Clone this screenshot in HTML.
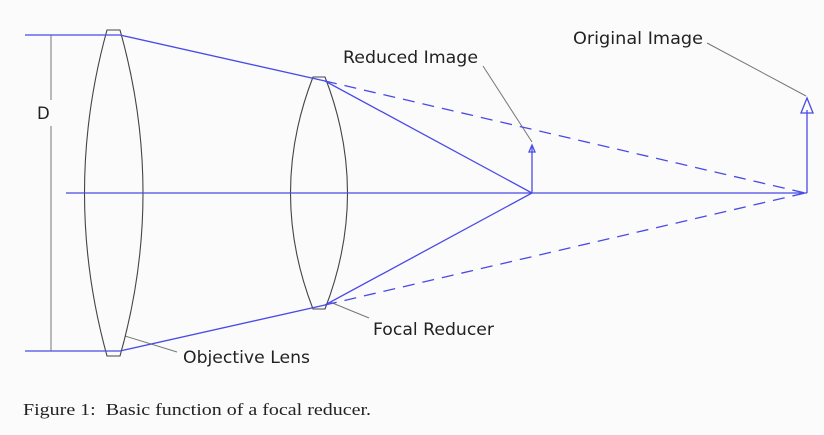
<!DOCTYPE html>
<html><head><style>
html,body{margin:0;padding:0;background:#fbfbfb;}
svg{display:block}
.l{font-family:"DejaVu Sans","Liberation Sans",sans-serif;font-size:16.5px;fill:#222}
</style></head><body>
<svg width="824" height="435" viewBox="0 0 824 435" xmlns="http://www.w3.org/2000/svg">
<rect width="824" height="435" fill="#fbfbfb"/>
<g stroke="#777" stroke-width="1" fill="none">
<line x1="51" y1="35" x2="51" y2="100"/>
<line x1="51" y1="126" x2="51" y2="351"/>
<line x1="125" y1="336" x2="177" y2="352"/>
<line x1="330" y1="302" x2="369" y2="318"/>
<line x1="483" y1="66" x2="532" y2="142"/>
<line x1="707" y1="43" x2="806" y2="96"/>
</g>
<g stroke="#444" stroke-width="1.1" fill="none">
<path d="M107 30 L120 30 Q166 193 120 356 L107 356 Q62 193 107 30 Z"/>
<path d="M313 77 L325 77 Q370 193 325 309 L313 309 Q268 193 313 77 Z"/>
</g>
<g stroke="#4a4ae6" stroke-width="1.3" fill="none">
<line x1="25" y1="35" x2="120" y2="35"/>
<line x1="25" y1="351" x2="120" y2="351"/>
<line x1="66" y1="193" x2="807" y2="193"/>
<polyline points="120,35 325,81 532,193 325,305 120,351"/>
<line x1="532" y1="193" x2="532" y2="146"/>
<polygon points="532,145 529,152 535,152"/>
<line x1="807" y1="193" x2="807" y2="110"/>
<polygon points="807,98 801,113 813,113"/>
<g stroke-dasharray="12,8">
<line x1="325" y1="81" x2="805" y2="193"/>
<line x1="325" y1="305" x2="805" y2="193"/>
</g>
</g>
<text class="l" x="37" y="119">D</text>
<text class="l" x="343" y="63" textLength="135" lengthAdjust="spacingAndGlyphs">Reduced Image</text>
<text class="l" x="573" y="44" textLength="130" lengthAdjust="spacingAndGlyphs">Original Image</text>
<text class="l" x="373" y="335" textLength="121" lengthAdjust="spacingAndGlyphs">Focal Reducer</text>
<text class="l" x="183" y="363" textLength="127" lengthAdjust="spacingAndGlyphs">Objective Lens</text>
<text x="23" y="415" textLength="348" lengthAdjust="spacingAndGlyphs" style="font-family:'Liberation Serif',serif;font-size:17px;fill:#222;white-space:pre">Figure 1:  Basic function of a focal reducer.</text>
</svg>
</body></html>
